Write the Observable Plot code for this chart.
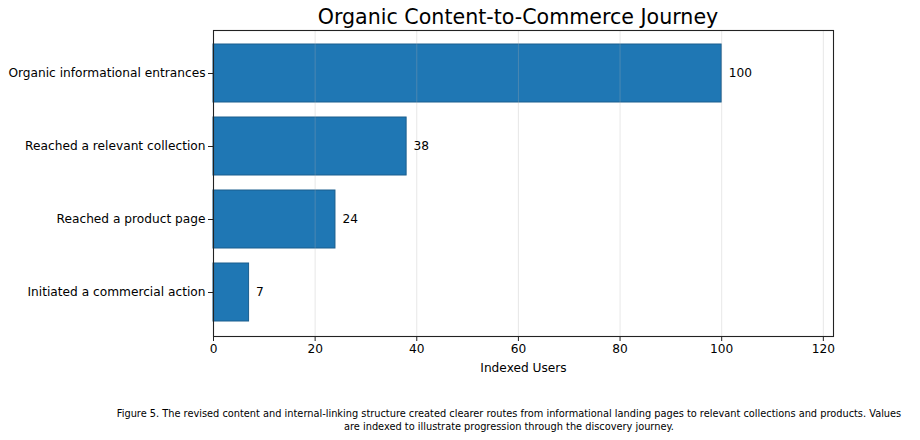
<!DOCTYPE html>
<html>
<head>
<meta charset="utf-8">
<script src="https://cdn.jsdelivr.net/npm/d3@7"></script>
<script src="https://cdn.jsdelivr.net/npm/@observablehq/plot@0.6"></script>
<style>
  html, body { margin: 0; padding: 0; background: #fff; }
  #wrap { position: relative; width: 920px; height: 440px; font-family: "DejaVu Sans", sans-serif; color: #000; }
  #title { position: absolute; left: 0; width: 1036px; top: 4px; text-align: center; font-size: 20.6px; line-height: 26px; white-space: nowrap; }
  #chart { position: absolute; left: 0; top: 0; }
  #caption { position: absolute; left: 0; width: 1018px; top: 407px; text-align: center; font-size: 9.8px; line-height: 13px; }
  #caption span { display: inline-block; white-space: nowrap; }
</style>
</head>
<body>
<div id="wrap">
  <div id="chart"></div>
  <div id="title">Organic Content-to-Commerce Journey</div>
  <div id="caption"><span>Figure 5. The revised content and internal-linking structure created clearer routes from informational landing pages to relevant collections and products. Values</span><br><span>are indexed to illustrate progression through the discovery journey.</span></div>
</div>
<script>
// Journey stages, top to bottom
const stages = [
  "Organic informational entrances",
  "Reached a relevant collection",
  "Reached a product page",
  "Initiated a commercial action"
];
// Indexed users reaching each stage
const users = [100, 38, 24, 7];
const xTicks = [0, 20, 40, 60, 80, 100, 120];

const data = stages.map((stage, i) => ({stage, value: users[i]}));

const font = 12.2;

const chart = Plot.plot({
  width: 920,
  height: 390,
  marginLeft: 213,
  marginRight: 87,
  marginTop: 30,
  marginBottom: 54,
  style: {fontFamily: "DejaVu Sans, sans-serif", fontSize: font + "px", color: "#000", background: "#fff"},
  x: {domain: [0, 122]},
  y: {domain: stages, paddingInner: 0.2, paddingOuter: 0.19},
  marks: [
    Plot.barX(data, {x: "value", y: "stage", fill: "#1f77b4", stroke: "#1b5e8e", strokeWidth: 1}),
    Plot.gridX(xTicks, {stroke: "#b0b0b0", strokeOpacity: 0.3, strokeWidth: 1}),
    Plot.text(data, {x: "value", y: "stage", text: d => String(d.value), dx: 7, textAnchor: "start", fontSize: font, fill: "#000"}),
    Plot.axisY({tickSize: 5, tickPadding: 3, label: null, fontSize: font, stroke: "#222"}),
    Plot.axisX({ticks: xTicks, tickSize: 5, tickPadding: 3, tickFormat: d => String(d), fontSize: font, label: "Indexed Users", labelAnchor: "center", labelArrow: "none", labelOffset: 35, stroke: "#222"}),
    Plot.frame({stroke: "#222", strokeWidth: 1.1})
  ]
});
document.getElementById("chart").appendChild(chart);
</script>
</body>
</html>
